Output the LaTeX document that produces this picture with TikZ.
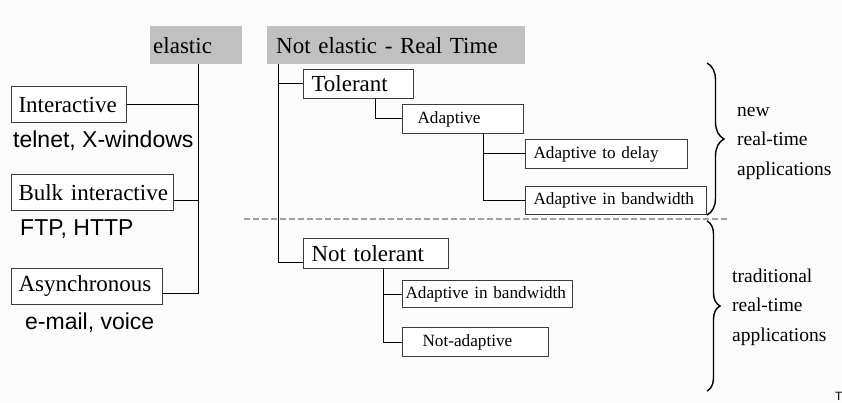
\documentclass[tikz,border=0pt]{standalone}
\usepackage{fontspec}
\setmainfont{Liberation Serif}
\setsansfont{Liberation Sans}
\usetikzlibrary{calc,decorations.pathreplacing}
\definecolor{hdgrey}{RGB}{192,192,192}
\definecolor{bordergrey}{RGB}{60,60,60}
\definecolor{bggrey}{RGB}{251,251,251}
\definecolor{dashgrey}{RGB}{160,160,160}
\tikzset{
  heading/.style={fill=hdgrey, draw=none, anchor=north west, inner ysep=0pt, align=left,
    font=\fontsize{23}{23}\selectfont},
  bigbox/.style={draw=bordergrey, line width=1pt, fill=white, anchor=north west, inner ysep=0pt, align=left,
    font=\fontsize{23}{23}\selectfont},
  smallbox/.style={draw=bordergrey, line width=1pt, fill=white, anchor=north west, inner ysep=0pt, align=left,
    font=\fontsize{17.2}{17.2}\selectfont},
  sanslabel/.style={anchor=base west, inner sep=0pt, font=\sffamily\fontsize{23}{23}\selectfont},
  sidelabel/.style={anchor=west, inner sep=0pt, align=left, font=\fontsize{19.5}{29.5}\selectfont},
  conn/.style={draw=black, line width=1pt},
  bracest/.style={draw=black, line width=1.4pt, decorate},
}
\begin{document}
\begin{tikzpicture}[x=1pt,y=-1pt]
\useasboundingbox (0,0) rectangle (842,403);
\fill[bggrey] (0,0) rectangle (842,403);

% headings
\node[heading, minimum height=38pt, inner xsep=3pt, text width=86pt] (elastic) at (150,26) {\mbox{elastic}};
\node[heading, minimum height=38pt, inner xsep=9pt, text width=240pt] (notel) at (267,26) {\mbox{Not elastic - Real Time}};

% elastic side
\node[bigbox, minimum height=36pt, inner xsep=7pt, text width=101pt] (inter) at (11,86) {\mbox{Interactive}};
\node[bigbox, minimum height=36pt, inner xsep=7pt, text width=148pt] (bulk) at (11,174) {\mbox{Bulk interactive}};
\node[bigbox, minimum height=36pt, inner xsep=7pt, text width=137pt] (async) at (11,268) {\mbox{Asynchronous}};

\node[sanslabel] (l1) at (13,148) {telnet, X-windows};
\node[sanslabel] (l2) at (20,235) {FTP, HTTP};
\node[sanslabel] (l3) at (25,329) {e-mail, voice};

\coordinate (bj) at ($(bulk.south east)+(0,-10)$);
\coordinate (aj) at ($(async.south east)+(0,-12)$);
\coordinate (etop) at ($(elastic.south west)+(48,0)$);
\draw[conn] (etop) |- (aj);
\draw[conn] (inter.east) -- (inter.east -| etop);
\draw[conn] (bj) -- (bj -| etop);

% real time side
\node[bigbox, minimum height=29pt, inner xsep=8pt, text width=94pt] (tol) at (303,69) {\mbox{Tolerant}};
\node[smallbox, minimum height=29pt, inner xsep=15pt, text width=91pt] (adap) at (402,104) {\mbox{Adaptive}};
\node[smallbox, minimum height=29pt, inner xsep=8pt, text width=146pt] (adelay) at (525,139) {\mbox{Adaptive to delay}};
\node[smallbox, minimum height=28pt, inner xsep=8pt, text width=165pt] (aband1) at (525,186) {\mbox{Adaptive in bandwidth}};
\node[bigbox, minimum height=30pt, inner xsep=8pt, text width=129pt] (nottol) at (303,238) {\mbox{Not tolerant}};
\node[smallbox, minimum height=27pt, inner xsep=3pt, text width=164pt] (aband2) at (402,280) {\mbox{Adaptive in bandwidth}};
\node[smallbox, minimum height=29pt, inner xsep=20pt, text width=106pt] (notad) at (402,327) {\mbox{Not-adaptive}};

\coordinate (ntop) at ($(notel.south west)+(11,0)$);
\coordinate (ntj) at ($(nottol.south west)+(0,-7)$);
\draw[conn] (ntop) |- (ntj);
\draw[conn] (tol.west) -- (tol.west -| ntop);
\draw[conn] ($(tol.south west)+(72,0)$) |- (adap.west);
\coordinate (adtop) at ($(adap.south west)+(81,0)$);
\draw[conn] (adtop) |- (aband1.west);
\draw[conn] (adelay.west) -- (adelay.west -| adtop);
\coordinate (nttop) at ($(nottol.south west)+(80,0)$);
\draw[conn] (nttop) |- (notad.west);
\draw[conn] (aband2.west) -- (aband2.west -| nttop);

% separator
\coordinate (dsL) at (244,219);
\coordinate (dsR) at (730,219);
\draw[dashgrey, line width=1.6pt, dash pattern=on 6pt off 3pt] (dsL) -- (dsR);

% braces
\coordinate (b1t) at (707,63);
\coordinate (b1b) at (707,215);
\coordinate (b2t) at (707,221);
\coordinate (b2b) at (707,391);
\draw[bracest, decoration={brace, amplitude=17pt}] (b1t) -- (b1b);
\draw[bracest, decoration={brace, amplitude=13pt}] (b2t) -- (b2b);

\node[sidelabel] (newrt) at (737,143) {new\\real-time\\applications};
\node[sidelabel] (tradrt) at (732,307) {traditional\\real-time\\applications};

\node[anchor=north west, inner sep=0pt, font=\sffamily\fontsize{12}{12}\selectfont] (tiny) at (835,392) {T};
\end{tikzpicture}
\end{document}
